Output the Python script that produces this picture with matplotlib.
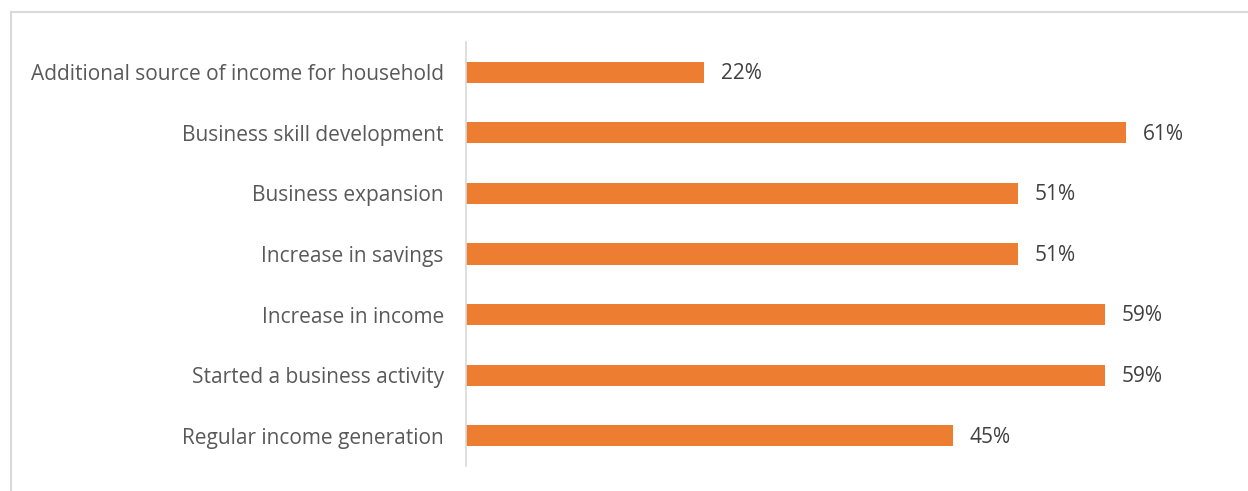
import matplotlib
matplotlib.use("Agg")
import matplotlib.pyplot as plt
from matplotlib.lines import Line2D

# outcome categories, top to bottom
categories = [
    "Additional source of income for household",
    "Business skill development",
    "Business expansion",
    "Increase in savings",
    "Increase in income",
    "Started a business activity",
    "Regular income generation",
]
shares = [22, 61, 51, 51, 59, 59, 45]

bar_color = "#ED7D31"
plt.rcParams["font.family"] = ["Open Sans", "DejaVu Sans"]

fig = plt.figure(figsize=(12.48, 4.91), dpi=100)
ax = fig.add_axes([466 / 1248, 1 - 466 / 491, (1240 - 466) / 1248, 424 / 491])

pos = list(range(len(categories)))
ax.barh(pos, shares, height=0.35, color=bar_color)
ax.set_ylim(len(categories) - 0.5, -0.5)
ax.set_xlim(0, 71.5)

for p, v in zip(pos, shares):
    ax.annotate(f"{v}%", (v, p), xytext=(12, -1), textcoords="offset points",
                va="center", ha="left", fontsize=15, color="#404040")

ax.set_yticks(pos)
ax.set_yticklabels(categories, fontsize=15, color="#595959")
ax.tick_params(axis="y", length=0, pad=16)
ax.set_xticks([])
for s in ["top", "right", "bottom"]:
    ax.spines[s].set_visible(False)
ax.spines["left"].set_color("#d9d9d9")
ax.spines["left"].set_linewidth(1.2)

# outer chart frame (only top and left edges are in view)
fig.add_artist(Line2D([11 / 1248, 1], [1 - 12 / 491, 1 - 12 / 491], color="#d9d9d9", lw=1.5))
fig.add_artist(Line2D([11 / 1248, 11 / 1248], [0, 1 - 12 / 491], color="#d9d9d9", lw=1.5))

fig.savefig("out.png", dpi=100)
